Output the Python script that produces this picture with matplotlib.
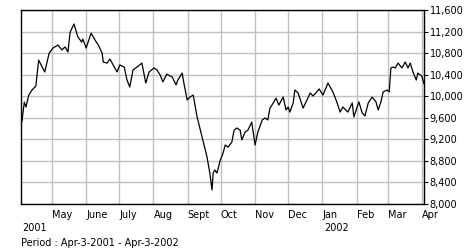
"""
Index chart, Apr-3-2001 - Apr-3-2002
"""

import datetime as dt

import matplotlib
matplotlib.use("Agg")
import matplotlib.pyplot as plt
import matplotlib.dates as mdates
from matplotlib.ticker import FuncFormatter, MultipleLocator
from matplotlib.transforms import blended_transform_factory

# days since Apr-3-2001 and closing level
days = [0, 1, 3, 4.5, 7, 10, 13.5, 14.5, 16, 21.5, 25.5, 29, 33.5, 37, 40,
        42.5, 44.5, 48, 51.5, 55, 56, 59, 63.5, 67, 70, 73.5, 74.5, 78, 80.5,
        83.5, 87, 89.5, 93.5, 96, 98.5, 101.5, 105, 109.5, 113, 116, 120.5,
        123, 126, 128.5, 132, 137, 140.5, 142, 146, 147.5, 150.5, 153, 156,
        159.5, 164, 168.5, 171, 173, 174, 175.5, 177.5, 180.5, 183, 185,
        187.5, 191, 193, 195.5, 198.5, 200, 203, 205.5, 209, 212, 214.5,
        218.5, 221, 223.5, 225.5, 228.5, 231, 233.5, 237.5, 240, 242, 243.5,
        246.5, 248, 251, 255.5, 259, 262, 264.5, 267, 270, 273.5, 278,
        282.5, 286, 289, 291.5, 296, 300, 301.5, 304.5, 306, 309, 311.5,
        314.5, 318, 321.5, 323.5, 326, 328, 331.5, 333.5, 335, 337, 339,
        341.5, 345, 348, 350.5, 352.5, 355, 358, 359.5, 363, 365]
values = [9470, 9560, 9890, 9800, 10020, 10115, 10190, 10395, 10670, 10450,
          10800, 10895, 10950, 10860, 10915, 10820, 11190, 11340, 11100,
          11005, 11060, 10895, 11170, 11045, 10950, 10800, 10635, 10615,
          10690, 10580, 10450, 10580, 10540, 10300, 10170, 10490, 10540,
          10615, 10245, 10450, 10525, 10490, 10395, 10265, 10410, 10355,
          10210, 10300, 10430, 10245, 9930, 9985, 10020, 9615, 9245, 8870,
          8575, 8260, 8575, 8630, 8575, 8815, 8945, 9095, 9055, 9150, 9370,
          9410, 9370, 9190, 9335, 9370, 9520, 9095, 9335, 9560, 9595, 9560,
          9780, 9875, 9965, 9835, 9985, 9745, 9800, 9705, 9875, 10115, 10060,
          9780, 9930, 10060, 10005, 10060, 10135, 10020, 10245, 10080, 9895,
          9705, 9800, 9705, 9875, 9615, 9800, 9895, 9690, 9635, 9875, 9985,
          9895, 9745, 9895, 10080, 10115, 10080, 10525, 10540, 10525, 10615,
          10525, 10635, 10525, 10615, 10450, 10300, 10430, 10375, 10230]

start = dt.datetime(2001, 4, 3)
end = dt.datetime(2002, 4, 3)
month_starts = [dt.datetime(2001, m, 1) for m in range(5, 13)] + \
    [dt.datetime(2002, m, 1) for m in range(1, 5)]
month_names = ["May", "June", "July", "Aug", "Sept", "Oct", "Nov", "Dec",
               "Jan", "Feb", "Mar", "Apr"]
year_labels = [(start, "2001"), (dt.datetime(2002, 1, 1), "2002")]
period_text = "Period : Apr-3-2001 - Apr-3-2002"

plt.rcParams["font.family"] = ["DejaVu Sans"]
plt.rcParams["font.size"] = 7

dates = [start + dt.timedelta(days=d) for d in days]

fig = plt.figure(figsize=(4.7, 2.5), dpi=100)
ax = fig.add_axes([21 / 470, 1 - 204 / 250, 403 / 470, 194 / 250])

ax.plot(dates, values, color="black", lw=0.9)

ax.set_xlim(start, end)
ax.set_ylim(8000, 11600)

ax.set_xticks(month_starts)
ax.set_xticklabels(month_names, ha="left")
ax.tick_params(axis="x", length=0, pad=4)

ax.yaxis.set_major_locator(MultipleLocator(400))
ax.yaxis.set_major_formatter(FuncFormatter(lambda v, p: f"{int(v):,}"))
ax.yaxis.tick_right()
ax.tick_params(axis="y", length=3, width=0.8, pad=1, direction="out")

ax.grid(True, color="#c0c0c0", lw=1)
ax.set_axisbelow(True)
for s in ax.spines.values():
    s.set_color("black")
    s.set_linewidth(1)

trans = blended_transform_factory(ax.transData, fig.transFigure)
for d, lab in year_labels:
    ax.text(mdates.date2num(d) + 1.5, 1 - 228 / 250, lab, transform=trans,
            ha="left", va="center")

fig.text(21 / 470, 1 - 243 / 250, period_text, ha="left", va="center")

fig.savefig("out.png", dpi=100)
plt.close(fig)
